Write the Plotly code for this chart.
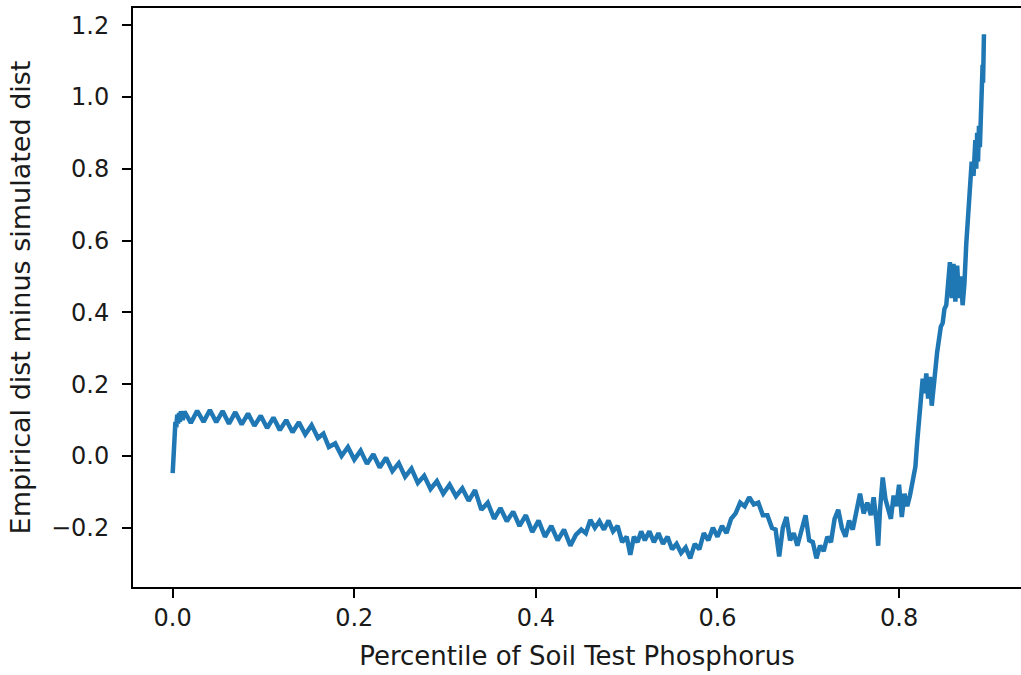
import plotly.graph_objects as go

# Percentile of soil test phosphorus (x) and empirical minus simulated distribution (y)
percentile = [
    0.000, 0.0005, 0.001, 0.002, 0.003, 0.004, 0.005, 0.006, 0.007, 0.008, 0.009, 0.011,
    0.013, 0.020, 0.027, 0.034, 0.041, 0.048, 0.055, 0.062, 0.069, 0.076,
    0.083, 0.090, 0.097, 0.104, 0.111, 0.118, 0.125, 0.132, 0.139, 0.146,
    0.153, 0.160, 0.166, 0.172, 0.179, 0.186, 0.193, 0.200, 0.207, 0.214,
    0.221, 0.228, 0.235, 0.242, 0.249, 0.256, 0.263, 0.270, 0.277, 0.284,
    0.291, 0.298, 0.305, 0.312, 0.319, 0.326, 0.333, 0.340, 0.347, 0.354,
    0.361, 0.368, 0.375, 0.382, 0.389, 0.396, 0.403, 0.410, 0.417, 0.424,
    0.431, 0.438, 0.444,
    0.450, 0.455, 0.460, 0.465, 0.470, 0.475, 0.480, 0.485, 0.490, 0.495,
    0.500, 0.504, 0.508, 0.512, 0.516, 0.520, 0.525, 0.530, 0.535, 0.540,
    0.545, 0.550, 0.555, 0.560, 0.565, 0.570, 0.575, 0.580, 0.585, 0.590,
    0.595, 0.600, 0.605, 0.610, 0.615, 0.620, 0.625, 0.630, 0.635, 0.640,
    0.645, 0.650, 0.655, 0.660, 0.664, 0.668, 0.672, 0.676, 0.680, 0.684,
    0.688, 0.692, 0.697, 0.701, 0.705, 0.709, 0.713, 0.717, 0.721, 0.725,
    0.729, 0.733, 0.737, 0.741, 0.745, 0.749, 0.753, 0.757, 0.761, 0.765,
    0.769, 0.772, 0.775, 0.777, 0.779, 0.782, 0.785, 0.788, 0.791, 0.794,
    0.797, 0.800, 0.803, 0.806, 0.809, 0.812, 0.815, 0.818, 0.820, 0.822,
    0.824, 0.826, 0.828, 0.830, 0.832, 0.834, 0.836, 0.838, 0.840, 0.842,
    0.844, 0.846, 0.848, 0.850, 0.852, 0.854, 0.856, 0.858, 0.860, 0.862,
    0.864, 0.866, 0.868, 0.870, 0.872, 0.874, 0.876, 0.878, 0.880, 0.882,
    0.884, 0.885, 0.886, 0.887, 0.888, 0.889, 0.890, 0.891, 0.892, 0.8925,
    0.8935,
]
difference = [
    -0.048, -0.020, 0.030, 0.070, 0.095, 0.080, 0.115, 0.090, 0.120, 0.095, 0.125, 0.100,
    0.124, 0.092, 0.126, 0.095, 0.128, 0.094, 0.125, 0.090, 0.122, 0.088,
    0.118, 0.084, 0.112, 0.078, 0.107, 0.072, 0.100, 0.066, 0.094, 0.060,
    0.086, 0.050, 0.062, 0.025, 0.035, 0.000, 0.025, -0.010, 0.015, -0.022,
    0.005, -0.032, -0.005, -0.042, -0.020, -0.058, -0.035, -0.075, -0.055, -0.092,
    -0.070, -0.105, -0.080, -0.112, -0.090, -0.125, -0.095, -0.150, -0.130, -0.175,
    -0.145, -0.182, -0.155, -0.195, -0.165, -0.212, -0.180, -0.225, -0.195, -0.235,
    -0.205, -0.250, -0.220,
    -0.205, -0.215, -0.178, -0.200, -0.182, -0.205, -0.180, -0.210, -0.195, -0.240,
    -0.225, -0.275, -0.225, -0.240, -0.210, -0.235, -0.210, -0.240, -0.215, -0.245,
    -0.225, -0.260, -0.245, -0.270, -0.255, -0.285, -0.245, -0.260, -0.215, -0.235,
    -0.200, -0.225, -0.195, -0.215, -0.175, -0.160, -0.130, -0.140, -0.115, -0.135,
    -0.130, -0.165, -0.165, -0.200, -0.205, -0.280, -0.200, -0.170, -0.235, -0.215,
    -0.250, -0.210, -0.165, -0.235, -0.240, -0.285, -0.250, -0.265, -0.225, -0.240,
    -0.175, -0.150, -0.200, -0.225, -0.180, -0.205, -0.150, -0.105, -0.160, -0.130,
    -0.165, -0.115, -0.180, -0.250, -0.150, -0.060, -0.120, -0.150, -0.175, -0.110,
    -0.140, -0.080, -0.170, -0.105, -0.140, -0.110, -0.060, -0.030, 0.040, 0.100,
    0.190, 0.215, 0.175, 0.230, 0.160, 0.220, 0.140, 0.180, 0.240, 0.290,
    0.320, 0.360, 0.370, 0.410, 0.420, 0.470, 0.540, 0.440, 0.535, 0.430,
    0.530, 0.440, 0.500, 0.420, 0.480, 0.590, 0.680, 0.760, 0.820, 0.780,
    0.880, 0.800, 0.900, 0.820, 0.920, 0.860, 0.940, 0.960, 1.090, 1.040,
    1.175,
]
x_ticks = [0.0, 0.2, 0.4, 0.6, 0.8]
x_tick_labels = ["0.0", "0.2", "0.4", "0.6", "0.8"]
y_ticks = [-0.2, 0.0, 0.2, 0.4, 0.6, 0.8, 1.0, 1.2]
y_tick_labels = ["\u22120.2", "0.0", "0.2", "0.4", "0.6", "0.8", "1.0", "1.2"]

fig = go.Figure()
fig.add_trace(go.Scatter(
    x=percentile, y=difference, mode="lines",
    line=dict(color="#1f77b4", width=4.5),
    showlegend=False,
))

font_family = "DejaVu Sans"
fig.update_layout(
    width=1021, height=675,
    margin=dict(l=133, r=0, t=8, b=88),
    paper_bgcolor="white", plot_bgcolor="white",
    font=dict(family=font_family, size=24, color="#000000"),
    xaxis=dict(
        range=[-0.0437, 0.9343],
        automargin=False,
        tickvals=x_ticks, ticktext=x_tick_labels,
        showgrid=False, zeroline=False,
        showline=True, linecolor="#000000", linewidth=2, mirror=True,
        ticks="outside", ticklen=9, tickwidth=2, tickcolor="#000000",
        tickfont=dict(size=24, color="#1a1a1a"),
        ticklabelstandoff=-1,
        title=dict(text="Percentile of Soil Test Phosphorus", font=dict(size=26, color="#1a1a1a"), standoff=16),
    ),
    yaxis=dict(
        range=[-0.365, 1.248],
        automargin=False,
        tickvals=y_ticks, ticktext=y_tick_labels,
        showgrid=False, zeroline=False,
        showline=True, linecolor="#000000", linewidth=2, mirror=False,
        ticks="outside", ticklen=9, tickwidth=2, tickcolor="#000000",
        tickfont=dict(size=24, color="#1a1a1a"),
        ticklabelstandoff=8,
        title=dict(text="Empirical dist minus simulated dist", font=dict(size=27, color="#1a1a1a"), standoff=12),
    ),
)

fig.write_html(
    "out.html",
    config={"displayModeBar": False},
    post_script="document.body.style.margin='0';document.body.style.overflow='hidden';",
)
